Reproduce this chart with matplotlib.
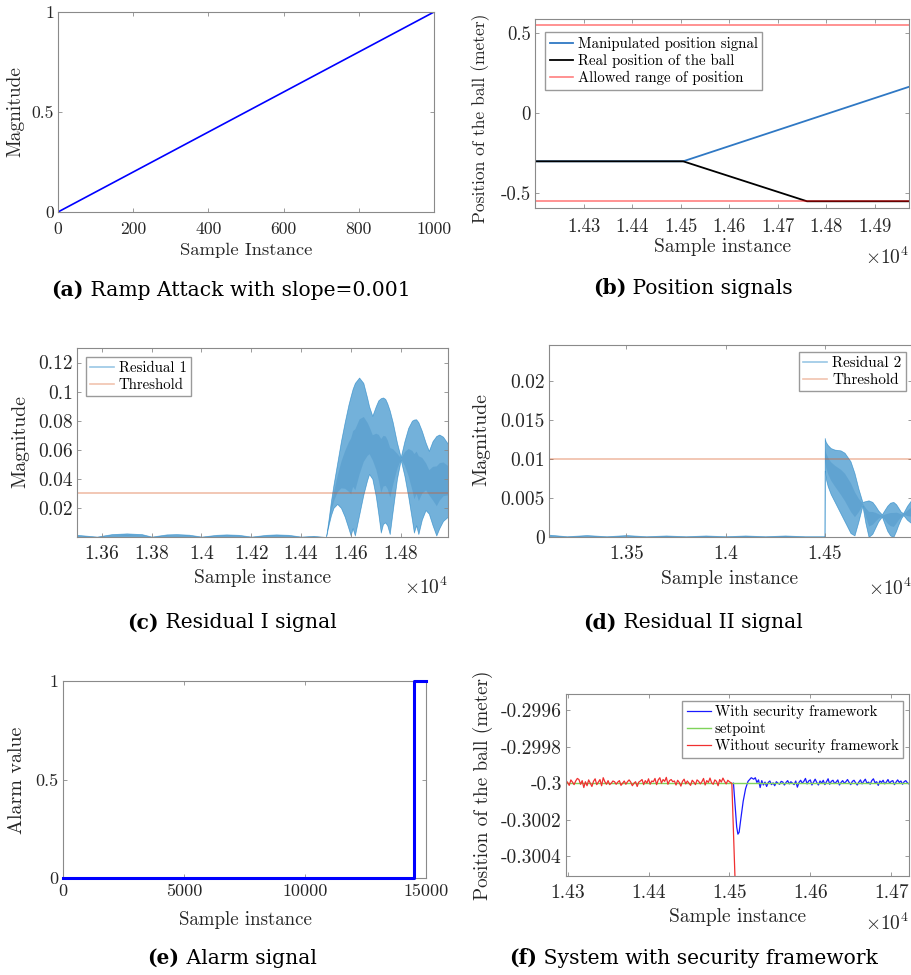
import matplotlib
matplotlib.use("Agg")
import matplotlib.pyplot as plt
from matplotlib.lines import Line2D
import numpy as np

plt.rcParams["font.family"] = "cmr10"
plt.rcParams["mathtext.fontset"] = "cm"
plt.rcParams["axes.unicode_minus"] = False

# ---- data ----
# (a) ramp attack
ramp_x = [0, 1000]
ramp_y = [0, 1]

# (b) position signals
manip_x = [14200, 14505, 14970]
manip_y = [-0.3, -0.3, 0.166]
real_x = [14200, 14505, 14760, 14970]
real_y = [-0.3, -0.3, -0.55, -0.55]
range_lo, range_hi = -0.55, 0.55

# (c) residual 1 envelope (upper / lower edge of the dense band)
res1_x = [13500, 13580, 13640, 13700, 13760, 13800, 13860, 13900, 13950, 14000,
          14060, 14100, 14150, 14200, 14260, 14300, 14350, 14400, 14450, 14500,
          14510, 14520, 14530, 14545, 14560, 14575, 14590, 14599, 14607, 14616,
          14633, 14650, 14665, 14673, 14686, 14700, 14710, 14720, 14729, 14738,
          14746, 14756, 14768, 14785, 14800, 14815, 14830, 14845, 14853, 14862,
          14871, 14885, 14900, 14913, 14928, 14943, 14955, 14970, 14990]
res1_hi = [0.0015, 0.0003, 0.0020, 0.0025, 0.0020, 0.0003, 0.0018, 0.0020, 0.0016, 0.0003,
           0.0015, 0.0018, 0.0015, 0.0003, 0.0015, 0.0018, 0.0015, 0.0003, 0.0008, 0.0,
           0.012, 0.025, 0.036, 0.051, 0.066, 0.079, 0.091, 0.097, 0.102, 0.106,
           0.1097, 0.106, 0.096, 0.090, 0.0834, 0.090, 0.094, 0.0955, 0.096, 0.095,
           0.092, 0.087, 0.079, 0.065, 0.055, 0.066, 0.075, 0.080, 0.0808, 0.081,
           0.079, 0.073, 0.065, 0.0593, 0.066, 0.0695, 0.0705, 0.069, 0.064]
res1_lo = [0, 0, 0, 0, 0, 0, 0, 0, 0, 0,
           0, 0, 0, 0, 0, 0, 0, 0, 0, 0,
           0.008, 0.015, 0.020, 0.0227, 0.020, 0.014, 0.006, 0.001, 0.006, 0.001,
           0.015, 0.029, 0.039, 0.0433, 0.040, 0.028, 0.016, 0.003, 0.009, 0.010,
           0.008, 0.002, 0.018, 0.040, 0.053, 0.042, 0.028, 0.012, 0.003, 0.008,
           0.002, 0.012, 0.0185, 0.016, 0.008, 0.001, 0.006, 0.011, 0.014]
thr1 = 0.03

# (d) residual 2 envelope
res2_x = [13110, 13200, 13300, 13400, 13500, 13600, 13700, 13800, 13900, 14000,
          14100, 14200, 14300, 14400, 14499, 14500, 14505, 14515, 14530, 14550,
          14580, 14600, 14630, 14650, 14670, 14690, 14705, 14721, 14740, 14755,
          14770, 14788, 14800, 14815, 14830, 14846, 14860, 14870, 14885, 14896,
          14915, 14935]
res2_hi = [0.0003, 0.0001, 0.00025, 0.0001, 0.00025, 0.0001, 0.0002, 0.0001, 0.0002, 0.0001,
           0.0002, 0.0001, 0.0002, 0.0001, 0.0001, 0.0127, 0.0122, 0.0118, 0.0114, 0.0112,
           0.0111, 0.0108, 0.0097, 0.0082, 0.0062, 0.0045, 0.0046, 0.0047, 0.0045, 0.0040,
           0.0034, 0.0029, 0.0034, 0.0040, 0.0044, 0.0045, 0.0042, 0.0038, 0.0032, 0.0031,
           0.0040, 0.0047]
res2_lo = [0, 0, 0, 0, 0, 0, 0, 0, 0, 0,
           0, 0, 0, 0, 0, 0.0085, 0.0075, 0.0065, 0.0055, 0.0045,
           0.0030, 0.0020, 0.0005, 0.0002, 0.0020, 0.0040, 0.0018, 0.0, 0.0004, 0.0012,
           0.0020, 0.0026, 0.0018, 0.0008, 0.0002, 0.0, 0.0008, 0.0015, 0.0024, 0.0028,
           0.0022, 0.0018]
thr2 = 0.01

# (e) alarm signal
alarm_x = [0, 14505, 15000]
alarm_y = [0, 1, 1]

# (f) system with security framework (noise in units of 1e-6 around the setpoint)
setpoint = -0.3
red_start, red_step = 14298, 2
red_noise = [14, 4, -12, 18, 6, -8, 12, 26, 20, -6, 14, -24, 8, -14, 18, 0, -18, 10, 24, -8,
             6, 20, -14, 30, 8, -6, 14, -8, 0, 12, 8, -6, 6, 14, -12, 0, 12, -6, 8, 18,
             6, -14, 0, 8, -18, 6, 12, 20, -8, 14, 0, 24, -6, 12, 8, 26, -8, 18, 30, 0,
             20, 10, 32, -6, 14, 20, 8, 12, -10, 16, 4, -16, 10, 22, -4, 12, 0, -12, 16, 6,
             -8, 18, 10, -4, 8, 26, -10, 14, 4, 28, 2, -6, 18, 10, -14, 20, 6, 28, 10, -4,
             16, 8, 2]
red_drop_x = [14503, 14509]
red_drop_y = [-0.3, -0.3008]
blue_dip_x = [14505, 14507, 14509, 14510.5, 14512, 14514, 14517, 14520, 14523, 14525, 14527]
blue_dip_y = [-0.3, -0.30012, -0.30024, -0.30028, -0.30027, -0.30020, -0.30010,
              -0.30003, -0.29999, -0.29998, -0.29997]
blue_start, blue_step = 14530, 2
blue_noise = [22, 30, 4, 18, -24, 14, -10, 6, -18, 4, 12, -8, 2, -14, 8, 0, -6, 10, 6, -10,
              4, 14, -4, 8, 0, -8, 12, -22, 4, 16, 0, 10, 26, -4, 12, 18, -10, 6, 22, 4,
              -10, 12, 0, 16, -8, 8, 24, -6, 10, 16, -2, 6, 18, -10, 4, 14, 0, 8, 20, 4,
              -8, 10, 16, 2, -10, 6, 18, -4, 10, 22, 0, 6, -6, 14, 24, 2, 8, -12, 12, 4,
              16, -4, 6, 20, 0, 10, 14, -8, 6, 18, 4, 12, -6, 8, 14, 2, -4]

# ---- layout helpers ----
W, H = 912, 975
fig = plt.figure(figsize=(W / 100, H / 100), dpi=100)
TXT = "#262626"
SPINE = "#8a8a8a"


def add_ax(l, t, r, b):
    return fig.add_axes([l / W, 1 - b / H, (r - l) / W, (b - t) / H])


def style(ax, fs, padx, pady):
    for s in ax.spines.values():
        s.set_color(SPINE)
        s.set_linewidth(0.8)
    ax.tick_params(direction="in", top=True, right=True, length=2.8, width=0.6,
                   color=SPINE, labelsize=fs, labelcolor=TXT)
    ax.tick_params(axis="x", pad=padx)
    ax.tick_params(axis="y", pad=pady)


def ftext(x, y, s, **kw):
    return fig.text(x / W, 1 - y / H, s, ha="center", va="center", color=TXT, **kw)


def caption(cx, cy, tag, text, size=14.6):
    r = fig.canvas.get_renderer()
    t1 = fig.text(0, 1 - cy / H, tag, fontsize=size, weight="bold",
                  family="DejaVu Serif", va="center", ha="left")
    t2 = fig.text(0, 1 - cy / H, " " + text, fontsize=size,
                  family="DejaVu Serif", va="center", ha="left")
    w1 = t1.get_window_extent(r).width
    w2 = t2.get_window_extent(r).width
    x0 = cx - (w1 + w2) / 2
    t1.set_x(x0 / W)
    t2.set_x((x0 + w1) / W)


def xticks_e4(ax, ticks):
    ax.set_xticks(ticks)
    ax.set_xticklabels([f"{t / 1e4:g}" for t in ticks])


def yticks_g(ax, ticks):
    ax.set_yticks(ticks)
    ax.set_yticklabels([f"{t:g}" for t in ticks])


def band(ax, x, lo, hi):
    lo, hi = np.array(lo), np.array(hi)
    d = hi - lo
    ax.fill_between(x, lo, hi, color="#0072bd", alpha=0.55, lw=0.5)
    # darker core where the oscillation overlaps most
    ax.fill_between(x, lo + 0.3 * d, hi - 0.3 * d, color="#0060a8", alpha=0.16, lw=0)


leg_kw = dict(frameon=True, fancybox=False, shadow=False, framealpha=1,
              edgecolor="#9a9a9a", borderaxespad=0, borderpad=0.3,
              labelspacing=0.2, handlelength=1.6, handletextpad=0.3)

# ---- (a) ramp ----
ax = add_ax(58, 12, 434, 212)
ax.plot(ramp_x, ramp_y, color="#0000ff", lw=1.2)
ax.set_xlim(0, 1000)
ax.set_ylim(0, 1)
ax.set_xticks([0, 200, 400, 600, 800, 1000])
yticks_g(ax, [0, 0.5, 1])
style(ax, 12.7, 7, 3)
ftext(15, 112, "Magnitude", fontsize=14, rotation=90)
ftext(246, 250, "Sample Instance", fontsize=13.4)
caption(231, 290, "(a)", "Ramp Attack with slope=0.001")

# ---- (b) position signals ----
ax = add_ax(535, 19, 909, 208)
ax.plot(manip_x, manip_y, color="#2f78c4", lw=1.3, label="Manipulated position signal")
ax.plot(real_x, real_y, color="black", lw=1.3, label="Real position of the ball")
ax.axhline(range_hi, color="red", alpha=0.5, lw=1.2, label="Allowed range of position")
ax.axhline(range_lo, color="red", alpha=0.5, lw=1.2)
ax.set_xlim(14200, 14970)
ax.set_ylim(-0.592, 0.59)
xticks_e4(ax, [14300, 14400, 14500, 14600, 14700, 14800, 14900])
yticks_g(ax, [-0.5, 0, 0.5])
style(ax, 13.5, 7, 3)
ax.legend(loc="upper left", bbox_to_anchor=(0.027, 0.931), fontsize=10.7, **leg_kw)
ftext(481, 118, "Position of the ball (meter)", fontsize=12.6, rotation=90)
ftext(723, 247, "Sample instance", fontsize=14)
fig.text(909 / W, 1 - 257 / H, r"$\times10^{4}$", fontsize=14, ha="right", va="center", color=TXT)
caption(693, 288, "(b)", "Position signals")

# ---- (c) residual 1 ----
ax = add_ax(77, 348, 448, 537)
band(ax, res1_x, res1_lo, res1_hi)
ax.axhline(thr1, color="#d95319", alpha=0.35, lw=1.3)
ax.set_xlim(13500, 14990)
ax.set_ylim(0, 0.13)
xticks_e4(ax, [13600, 13800, 14000, 14200, 14400, 14600, 14800])
yticks_g(ax, [0.02, 0.04, 0.06, 0.08, 0.1, 0.12])
style(ax, 14, 6, 3)
h = [Line2D([], [], color="#0072bd", alpha=0.4, lw=1.2),
     Line2D([], [], color="#d95319", alpha=0.35, lw=1.2)]
ax.legend(h, ["Residual 1", "Threshold"], loc="upper left",
          bbox_to_anchor=(0.024, 0.952), fontsize=10.7, **leg_kw)
ftext(20, 442, "Magnitude", fontsize=14.3, rotation=90)
ftext(263, 578, "Sample instance", fontsize=14)
fig.text(448 / W, 1 - 587 / H, r"$\times10^{4}$", fontsize=14, ha="right", va="center", color=TXT)
caption(232, 623, "(c)", "Residual I signal")

# ---- (d) residual 2 ----
ax = add_ax(549, 345, 912, 537)
band(ax, res2_x, res2_lo, res2_hi)
ax.axhline(thr2, color="#d95319", alpha=0.35, lw=1.3)
ax.set_xlim(13110, 14940)
ax.set_ylim(0, 0.0246)
xticks_e4(ax, [13500, 14000, 14500])
yticks_g(ax, [0, 0.005, 0.01, 0.015, 0.02])
style(ax, 14, 6, 3)
ax.legend(h, ["Residual 2", "Threshold"], loc="upper right",
          bbox_to_anchor=(0.983, 0.964), fontsize=10.9, **leg_kw)
ftext(481, 440, "Magnitude", fontsize=14.3, rotation=90)
ftext(730, 579, "Sample instance", fontsize=14)
fig.text(912 / W, 1 - 588 / H, r"$\times10^{4}$", fontsize=14, ha="right", va="center", color=TXT)
caption(693, 623, "(d)", "Residual II signal")

# ---- (e) alarm ----
ax = add_ax(63, 681, 426, 878)
ax.plot(alarm_x, alarm_y, color="#0000ff", lw=2.2, drawstyle="steps-post",
        clip_on=False, zorder=3)
ax.set_xlim(0, 15000)
ax.set_ylim(0, 1)
ax.set_xticks([0, 5000, 10000, 15000])
yticks_g(ax, [0, 0.5, 1])
style(ax, 13, 4, 3)
ftext(17, 780, "Alarm value", fontsize=14.4, rotation=90)
ftext(245, 920, "Sample instance", fontsize=13.6)
caption(232, 958, "(e)", "Alarm signal")

# ---- (f) system with security framework ----
ax = add_ax(566, 694, 909, 876)
red_x = red_start + red_step * np.arange(len(red_noise))
red_y = setpoint + np.array(red_noise) * 1e-6
blue_x = blue_start + blue_step * np.arange(len(blue_noise))
blue_y = setpoint + np.array(blue_noise) * 1e-6
ax.plot(np.r_[blue_dip_x, blue_x], np.r_[blue_dip_y, blue_y], color="#1a1aff", lw=0.9,
        label="With security framework")
ax.plot([14298, 14722], [setpoint, setpoint], color="#7fd35a", lw=1.0, label="setpoint")
ax.plot(np.r_[red_x, red_drop_x], np.r_[red_y, red_drop_y], color="#f03030", lw=0.9,
        label="Without security framework")
ax.set_xlim(14298, 14722)
ax.set_ylim(-0.30051, -0.29951)
xticks_e4(ax, [14300, 14400, 14500, 14600, 14700])
yticks_g(ax, [-0.3004, -0.3002, -0.3, -0.2998, -0.2996])
style(ax, 14, 6, 3)
ax.legend(loc="upper right", bbox_to_anchor=(0.983, 0.962), fontsize=10.7, **leg_kw)
ftext(483, 785, "Position of the ball (meter)", fontsize=13.8, rotation=90)
ftext(738, 917, "Sample instance", fontsize=14)
fig.text(909 / W, 1 - 923 / H, r"$\times10^{4}$", fontsize=14, ha="right", va="center", color=TXT)
caption(694, 958, "(f)", "System with security framework")

fig.savefig("out.png", dpi=100)
